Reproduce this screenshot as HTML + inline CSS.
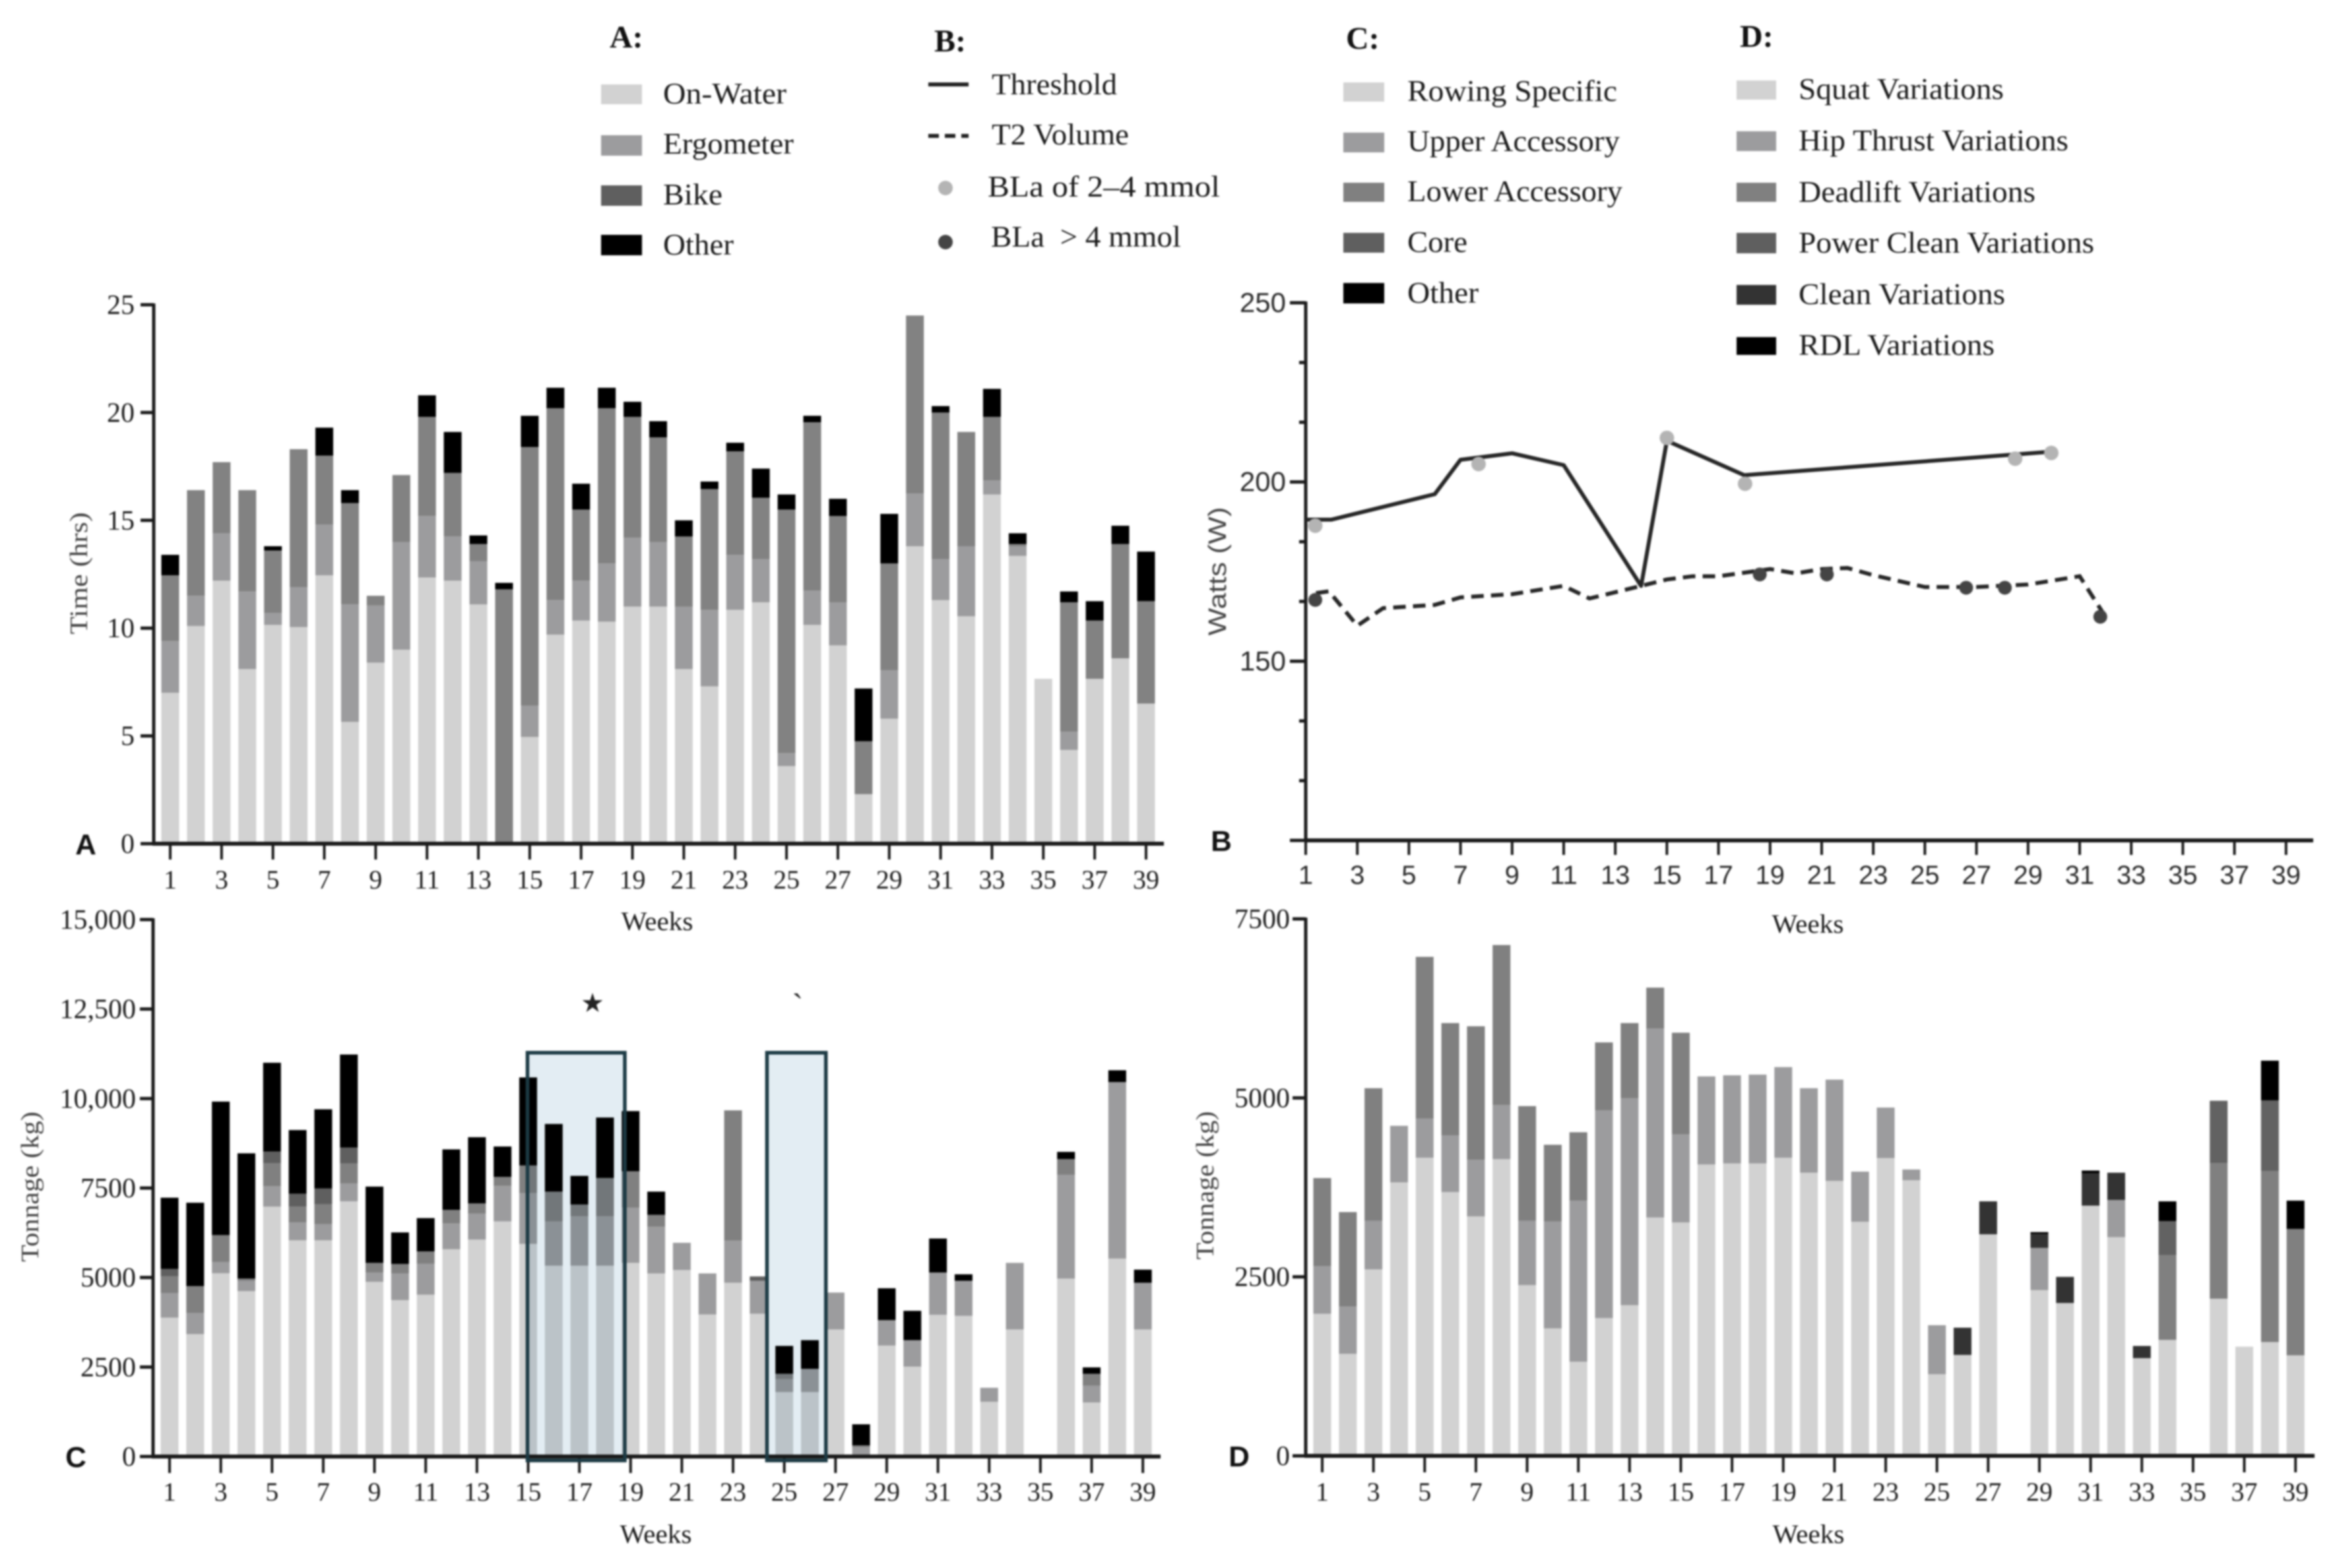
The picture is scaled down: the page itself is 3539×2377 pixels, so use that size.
<!DOCTYPE html>
<html lang="en">
<head>
<meta charset="utf-8">
<title>Weekly training load charts</title>
<style>
html,body{margin:0;padding:0;background:#fff;width:3539px;height:2377px;overflow:hidden}
svg{display:block;filter:blur(1.3px)}
.s{font-family:"Liberation Serif",serif;fill:#1c1c1c}
.b{font-family:"Liberation Sans",sans-serif;fill:#2a2a2a}
.lg{font-family:"Liberation Serif",serif;font-size:46px;fill:#1a1a1a}
.lh{font-family:"Liberation Serif",serif;font-size:48px;font-weight:bold;fill:#111}
</style>
</head>
<body>
<svg id="chart" xmlns="http://www.w3.org/2000/svg" width="3539" height="2377" viewBox="0 0 3539 2377">
  <rect width="3539" height="2377" fill="#fff"/>

  <g>
    <text class="lh" x="924" y="72">A:</text>
    <rect x="911" y="128" width="62" height="30" fill="#d2d2d2"/>
    <text class="lg" x="1005" y="157" textLength="187" lengthAdjust="spacingAndGlyphs">On-Water</text>
    <rect x="911" y="205" width="62" height="31" fill="#9c9c9e"/>
    <text class="lg" x="1005" y="233" textLength="198" lengthAdjust="spacingAndGlyphs">Ergometer</text>
    <rect x="911" y="281" width="62" height="31" fill="#5f5f5f"/>
    <text class="lg" x="1005" y="310" textLength="90" lengthAdjust="spacingAndGlyphs">Bike</text>
    <rect x="911" y="356" width="62" height="31" fill="#000"/>
    <text class="lg" x="1005" y="386" textLength="107" lengthAdjust="spacingAndGlyphs">Other</text>
  </g>

  <g>
    <text class="lh" x="1416" y="78">B:</text>
    <line x1="1407" x2="1468" y1="128" y2="128" stroke="#222" stroke-width="6"/>
    <text class="lg" x="1503" y="143" textLength="190" lengthAdjust="spacingAndGlyphs">Threshold</text>
    <line x1="1407" x2="1468" y1="206" y2="206" stroke="#222" stroke-width="6" stroke-dasharray="16 9"/>
    <text class="lg" x="1503" y="219" textLength="208" lengthAdjust="spacingAndGlyphs">T2 Volume</text>
    <circle cx="1433" cy="285" r="11" fill="#b4b4b4"/>
    <text class="lg" x="1497" y="298" textLength="352" lengthAdjust="spacingAndGlyphs">BLa of 2–4 mmol</text>
    <circle cx="1433" cy="367" r="11" fill="#444"/>
    <text class="lg" x="1502" y="374" textLength="288" lengthAdjust="spacingAndGlyphs" xml:space="preserve">BLa  &gt; 4 mmol</text>
  </g>

  <g>
    <text class="lh" x="2040" y="74">C:</text>
    <rect x="2036" y="125" width="62" height="29" fill="#d2d2d2"/>
    <text class="lg" x="2133" y="153" textLength="318" lengthAdjust="spacingAndGlyphs">Rowing Specific</text>
    <rect x="2036" y="201" width="62" height="30" fill="#9c9c9e"/>
    <text class="lg" x="2133" y="229" textLength="322" lengthAdjust="spacingAndGlyphs">Upper Accessory</text>
    <rect x="2036" y="277" width="62" height="29" fill="#808080"/>
    <text class="lg" x="2133" y="305" textLength="326" lengthAdjust="spacingAndGlyphs">Lower Accessory</text>
    <rect x="2036" y="353" width="62" height="30" fill="#5f5f5f"/>
    <text class="lg" x="2133" y="382" textLength="91" lengthAdjust="spacingAndGlyphs">Core</text>
    <rect x="2036" y="429" width="62" height="31" fill="#000"/>
    <text class="lg" x="2133" y="459" textLength="108" lengthAdjust="spacingAndGlyphs">Other</text>
  </g>

  <g>
    <text class="lh" x="2637" y="71">D:</text>
    <rect x="2632" y="122" width="60" height="29" fill="#d2d2d2"/>
    <text class="lg" x="2726" y="150" textLength="311" lengthAdjust="spacingAndGlyphs">Squat Variations</text>
    <rect x="2632" y="199" width="60" height="30" fill="#9c9c9e"/>
    <text class="lg" x="2726" y="228" textLength="409" lengthAdjust="spacingAndGlyphs">Hip Thrust Variations</text>
    <rect x="2632" y="277" width="60" height="29" fill="#808080"/>
    <text class="lg" x="2726" y="306" textLength="359" lengthAdjust="spacingAndGlyphs">Deadlift Variations</text>
    <rect x="2632" y="353" width="60" height="31" fill="#5f5f5f"/>
    <text class="lg" x="2726" y="383" textLength="448" lengthAdjust="spacingAndGlyphs">Power Clean Variations</text>
    <rect x="2632" y="432" width="60" height="30" fill="#333"/>
    <text class="lg" x="2726" y="461" textLength="313" lengthAdjust="spacingAndGlyphs">Clean Variations</text>
    <rect x="2632" y="511" width="60" height="27" fill="#000"/>
    <text class="lg" x="2726" y="538" textLength="297" lengthAdjust="spacingAndGlyphs">RDL Variations</text>
  </g>
</svg>

<script>
// ---------- shared categories and tick labels ----------
const weeks = [1,2,3,4,5,6,7,8,9,10,11,12,13,14,15,16,17,18,19,20,21,22,23,24,25,26,27,28,29,30,31,32,33,34,35,36,37,38,39];
const xTickWeeks = [1,3,5,7,9,11,13,15,17,19,21,23,25,27,29,31,33,35,37,39];

// ---------- panel A: time (hrs) ----------
const aTicks = [0,5,10,15,20,25];
const aOnWater = [7.0,10.1,12.2,8.1,10.15,10.05,12.45,5.65,8.4,9,12.35,12.2,11.1,0,4.95,9.7,10.35,10.3,11,11,8.1,7.3,10.85,11.2,3.6,10.15,9.2,2.3,5.8,13.8,11.3,10.55,16.2,13.35,7.65,4.35,7.65,8.6,6.5];
const aErgometer = [2.4,1.4,2.2,3.6,0.55,1.85,2.35,5.45,2.65,5,2.85,2.05,2,0,1.45,1.6,1.85,2.7,3.2,3,2.9,3.55,2.55,2,0.6,1.6,2,0,2.25,2.45,1.9,3.25,0.65,0.45,0,0.85,0,0,0];
const aBike = [3.05,4.9,3.3,4.7,2.9,6.4,3.2,4.7,0.45,3.1,4.6,2.95,0.8,11.8,12,8.9,3.3,7.2,5.6,4.85,3.25,5.6,4.8,2.85,11.3,7.8,4,2.45,4.95,8.25,6.8,5.3,2.95,0.1,0,6,2.7,5.3,4.75];
const aOther = [0.95,0,0,0,0.2,0,1.3,0.6,0,0,1,1.9,0.4,0.3,1.45,0.95,1.2,0.95,0.7,0.75,0.75,0.35,0.4,1.35,0.7,0.3,0.8,2.45,2.3,0,0.3,0,1.3,0.5,0,0.5,0.9,0.85,2.3];

// ---------- panel B: watts ----------
const bTicks = [100,150,200,250];
const bMinorTicks = [116.67,133.33,166.67,183.33,216.67,233.33];
const thresholdWeeks = [1,2,6,7,9,11,14,15,18,29.8];
const thresholdWatts = [189.5,189.5,196.6,206.2,208,204.7,171,211.5,201.9,208.4];
const t2Weeks = [1.4,1.9,3,4,6,7,9,11,12,14,15,16,17,19,20,21,22,23,25,27,29,31,32];
const t2Watts = [169,169.5,159.9,164.8,165.7,167.8,168.7,171,167.5,171,172.8,173.7,173.7,175.7,174.5,175.7,176,174,170.7,170.7,171.4,173.7,162.4];
const blaModerateWeeks = [1.37,7.7,15,18.03,28.5,29.9];
const blaModerateWatts = [187.8,205,212.3,199.5,206.5,208.1];
const blaHighWeeks = [1.37,18.6,21.2,26.6,28.1,31.8];
const blaHighWatts = [167.1,174.2,174.2,170.5,170.5,162.4];

// ---------- panel C: tonnage by category ----------
const cTicks = [0,2500,5000,7500,10000,12500,15000];
const cTickLabels = ['0','2500','5000','7500','10,000','12,500','15,000'];
const cRowing = [3880,3420,5120,4620,6980,6040,6040,7130,4880,4370,4520,5790,6060,6570,5940,5330,5330,5330,5410,5115,5210,3970,4855,3990,1800,1800,3550,0,3100,2510,3960,3930,1530,3550,0,4970,1510,5530,3550];
const cUpper = [690,590,315,290,570,500,450,500,260,745,870,720,730,990,1420,1240,1380,1380,1540,1305,760,1145,1175,920,360,650,1030,260,710,740,1180,980,390,1860,0,2900,470,4930,1305];
const cLower = [470,750,750,60,650,440,560,560,270,265,340,380,280,250,770,830,330,1070,1020,330,0,0,3640,0,150,0,0,50,0,0,0,0,0,0,0,440,330,0,0];
const cCore = [200,0,0,0,320,360,440,440,0,0,0,0,0,0,0,0,0,0,0,0,0,0,0,120,0,0,0,0,0,0,0,0,0,0,0,0,0,0,0];
const cOther = [1990,2330,3730,3500,2480,1780,2210,2600,2130,880,930,1690,1850,850,2460,1890,800,1690,1680,650,0,0,0,0,780,800,0,590,890,820,950,180,0,0,0,200,180,330,365];
const cHighlightStart = [15,24.35];
const cHighlightEnd = [18.8,26.65];
const cHighlightTop = [11280,11280];

// ---------- panel D: tonnage by lift ----------
const dTicks = [0,2500,5000,7500];
const dSquat = [1985,1425,2605,3820,4165,3685,3345,4145,2385,1780,1315,1925,2105,3330,3260,4070,4085,4085,4165,3955,3840,3270,4160,3850,1140,1410,3095,0,2315,2135,3495,3055,1365,1620,0,2195,1525,1590,1405];
const dHipThrust = [665,660,680,790,545,790,790,755,900,1495,2250,2900,2890,2640,1230,1230,1230,1240,1265,1180,1415,700,705,150,685,0,0,0,590,0,0,520,0,0,0,0,0,0,0];
const dDeadlift = [1230,1320,1850,0,2260,1570,1865,2235,1600,1070,955,950,1050,570,1420,0,0,0,0,0,0,0,0,0,0,0,0,0,0,0,0,0,0,1185,0,1895,0,2390,1765];
const dPowerClean = [0,0,0,0,0,0,0,0,0,0,0,0,0,0,0,0,0,0,0,0,0,0,0,0,0,0,0,0,0,0,0,0,0,475,0,870,0,985,0];
const dClean = [0,0,0,0,0,0,0,0,0,0,0,0,0,0,0,0,0,0,0,0,0,0,0,0,0,380,460,0,195,365,450,380,170,0,0,0,0,0,0];
const dRdl = [0,0,0,0,0,0,0,0,0,0,0,0,0,0,0,0,0,0,0,0,0,0,0,0,0,0,0,0,25,0,40,0,0,275,0,0,0,555,395];

const NS = 'http://www.w3.org/2000/svg';
const root = document.getElementById('chart');

function make(parent, tag, attrs) {
  const el = document.createElementNS(NS, tag);
  for (const k in attrs) el.setAttribute(k, attrs[k]);
  parent.appendChild(el);
  return el;
}

function linearX(first, step) { return w => first + (w - 1) * step; }
function linearY(zeroPx, topPx, min, max) { return v => zeroPx - (v - min) * (zeroPx - topPx) / (max - min); }

function drawAxes(panel, g, xs, ys, opt) {
  const axisY = make(g, 'line', {x1: opt.axisX, x2: opt.axisX, y1: opt.topY, y2: opt.zeroY + 2, stroke: '#1a1a1a', 'stroke-width': 5});
  
  
  const axisX = make(g, 'line', {x1: opt.axisX - 2, x2: opt.right, y1: opt.zeroY, y2: opt.zeroY, stroke: '#1a1a1a', 'stroke-width': 6});
  
  

  xTickWeeks.forEach(w => {
    const t = make(g, 'line', {x1: xs(w), x2: xs(w), y1: opt.zeroY, y2: opt.zeroY + opt.xTickLen, stroke: '#1a1a1a', 'stroke-width': 4});
    
    
    const l = make(g, 'text', {x: xs(w), y: opt.xLabelY, 'text-anchor': 'middle', 'font-size': 40, class: opt.tickClass});
    l.textContent = String(w);
    
    
  });

  opt.yTicks.forEach((v, i) => {
    const t = make(g, 'line', {x1: opt.axisX - opt.yTickLen, x2: opt.axisX, y1: ys(v), y2: ys(v), stroke: '#1a1a1a', 'stroke-width': 5});
    
    
    if (opt.hideZeroLabel && v === opt.yTicks[0]) return;
    const l = make(g, 'text', {x: opt.yLabelX, y: ys(v) + 14, 'text-anchor': 'end', 'font-size': 42, class: opt.tickClass});
    l.textContent = opt.yLabels ? opt.yLabels[i] : String(v);
    
    
  });

  const xt = make(g, 'text', {x: opt.xTitleX, y: opt.xTitleY, 'text-anchor': 'middle', 'font-size': 40, class: 's', textLength: 109, lengthAdjust: 'spacingAndGlyphs'});
  xt.textContent = 'Weeks';
  
  

  const yt = make(g, 'text', {transform: 'translate(' + opt.yTitleX + ',' + opt.yTitleCy + ') rotate(-90)', 'text-anchor': 'middle', 'font-size': 38, class: opt.yTitleClass, textLength: opt.yTitleLen, lengthAdjust: 'spacingAndGlyphs', style: 'fill:#444'});
  yt.textContent = opt.yTitle;
  
  

  const letter = make(g, 'text', {x: opt.letterX, y: opt.letterY, 'text-anchor': 'middle', 'font-size': 44, 'font-weight': 'bold', class: 'b', style: 'fill:#111'});
  letter.textContent = opt.letter;
  
  
}

function drawStack(panel, g, xs, ys, barW, seriesList, colors) {
  weeks.forEach((w, i) => {
    let sum = 0;
    seriesList.forEach((vals, s) => {
      const v = vals[i];
      if (!v) return;
      const yTop = ys(sum + v);
      const yBase = ys(sum);
      const r = make(g, 'rect', {x: xs(w) - barW / 2, y: yTop, width: barW, height: yBase - yTop, fill: colors[s]});
      
      
      sum += v;
    });
  });
}

function group(name) {
  const g = make(root, 'g', {});
  
  
  return g;
}

// ---------- panel A ----------
(function () {
  const g = group('panel-a-time-chart');
  const xs = linearX(258, 38.92);
  const ys = linearY(1279, 462, 0, 25);
  drawStack('panel-a', g, xs, ys, 27, [aOnWater, aErgometer, aBike, aOther], ['#d2d2d2', '#9c9c9e', '#828282', '#000']);
  drawAxes('panel-a', g, xs, ys, {axisX: 233, topY: 460, zeroY: 1279, right: 1764, xTickLen: 24, xLabelY: 1347, tickClass: 's', yTicks: aTicks, yTickLen: 20, yLabelX: 204, xTitleX: 996, xTitleY: 1410, yTitleX: 132, yTitleCy: 869, yTitleLen: 185, yTitleClass: 's', yTitle: 'Time (hrs)', letterX: 130, letterY: 1295, letter: 'A'});
})();

// ---------- panel B ----------
(function () {
  const g = group('panel-b-watts-chart');
  const xs = linearX(1979, 39.1);
  const ys = linearY(1274, 459, 100, 250);
  drawAxes('panel-b', g, xs, ys, {axisX: 1979, topY: 457, zeroY: 1274, right: 3506, xTickLen: 22, xLabelY: 1340, tickClass: 'b', yTicks: bTicks, yTickLen: 24, yLabelX: 1949, hideZeroLabel: true, xTitleX: 2740, xTitleY: 1414, yTitleX: 1858, yTitleCy: 866, yTitleLen: 195, yTitleClass: 'b', yTitle: 'Watts (W)', letterX: 1851, letterY: 1290, letter: 'B'});
  bMinorTicks.forEach(v => {
    const t = make(g, 'line', {x1: 1969, x2: 1979, y1: ys(v), y2: ys(v), stroke: '#1a1a1a', 'stroke-width': 5});
    
    
  });
  const threshold = make(g, 'polyline', {points: thresholdWeeks.map((w, i) => xs(w) + ',' + ys(thresholdWatts[i])).join(' '), fill: 'none', stroke: '#262626', 'stroke-width': 6, 'stroke-linejoin': 'round'});
  
  
  const t2 = make(g, 'polyline', {points: t2Weeks.map((w, i) => xs(w) + ',' + ys(t2Watts[i])).join(' '), fill: 'none', stroke: '#262626', 'stroke-width': 6, 'stroke-dasharray': '19 11'});
  
  
  blaModerateWeeks.forEach((w, i) => {
    const c = make(g, 'circle', {cx: xs(w), cy: ys(blaModerateWatts[i]), r: 11, fill: '#b4b4b4'});
    
    
  });
  blaHighWeeks.forEach((w, i) => {
    const c = make(g, 'circle', {cx: xs(w), cy: ys(blaHighWatts[i]), r: 10.5, fill: '#444'});
    
    
  });
})();

// ---------- panel C ----------
(function () {
  const g = group('panel-c-tonnage-chart');
  const xs = linearX(257, 38.82);
  const ys = linearY(2208, 1394, 0, 15000);
  drawStack('panel-c', g, xs, ys, 27, [cRowing, cUpper, cLower, cCore, cOther], ['#d2d2d2', '#9c9c9e', '#808080', '#5f5f5f', '#000']);
  drawAxes('panel-c', g, xs, ys, {axisX: 232, topY: 1392, zeroY: 2208, right: 1759, xTickLen: 25, xLabelY: 2275, tickClass: 's', yTicks: cTicks, yLabels: cTickLabels, yTickLen: 20, yLabelX: 206, xTitleX: 994, xTitleY: 2339, yTitleX: 58, yTitleCy: 1799, yTitleLen: 228, yTitleClass: 's', yTitle: 'Tonnage (kg)', letterX: 115, letterY: 2224, letter: 'C'});
  cHighlightStart.forEach((w, i) => {
    const left = xs(w) - 1;
    const right = xs(cHighlightEnd[i]) - 1;
    const top = ys(cHighlightTop[i]);
    const bottom = ys(-110);
    const fill = make(g, 'rect', {x: left, y: top, width: right - left, height: bottom - top, fill: '#e3edf3', style: 'mix-blend-mode:multiply'});
    
    
    const box = make(g, 'rect', {x: left, y: top, width: right - left, height: bottom - top, fill: 'none', stroke: '#1c3a44', 'stroke-width': 5.5});
    
    
  });
  const star = make(g, 'text', {x: 898, y: 1534, 'text-anchor': 'middle', 'font-size': 40, class: 'b', style: 'fill:#222'});
  star.textContent = '★';
  
  
  const tick = make(g, 'text', {x: 1209, y: 1541, 'text-anchor': 'middle', 'font-size': 50, class: 's'});
  tick.textContent = '`';
  
  
})();

// ---------- panel D ----------
(function () {
  const g = group('panel-d-tonnage-chart');
  const xs = linearX(2004, 38.82);
  const ys = linearY(2207, 1393, 0, 7500);
  drawStack('panel-d', g, xs, ys, 27, [dSquat, dHipThrust, dDeadlift, dPowerClean, dClean, dRdl], ['#d2d2d2', '#9c9c9e', '#808080', '#626262', '#333', '#000']);
  drawAxes('panel-d', g, xs, ys, {axisX: 1979, topY: 1391, zeroY: 2207, right: 3508, xTickLen: 25, xLabelY: 2275, tickClass: 's', yTicks: dTicks, yTickLen: 20, yLabelX: 1955, xTitleX: 2741, xTitleY: 2339, yTitleX: 1839, yTitleCy: 1797, yTitleLen: 225, yTitleClass: 's', yTitle: 'Tonnage (kg)', letterX: 1878, letterY: 2223, letter: 'D'});
})();
</script>
</body>
</html>
